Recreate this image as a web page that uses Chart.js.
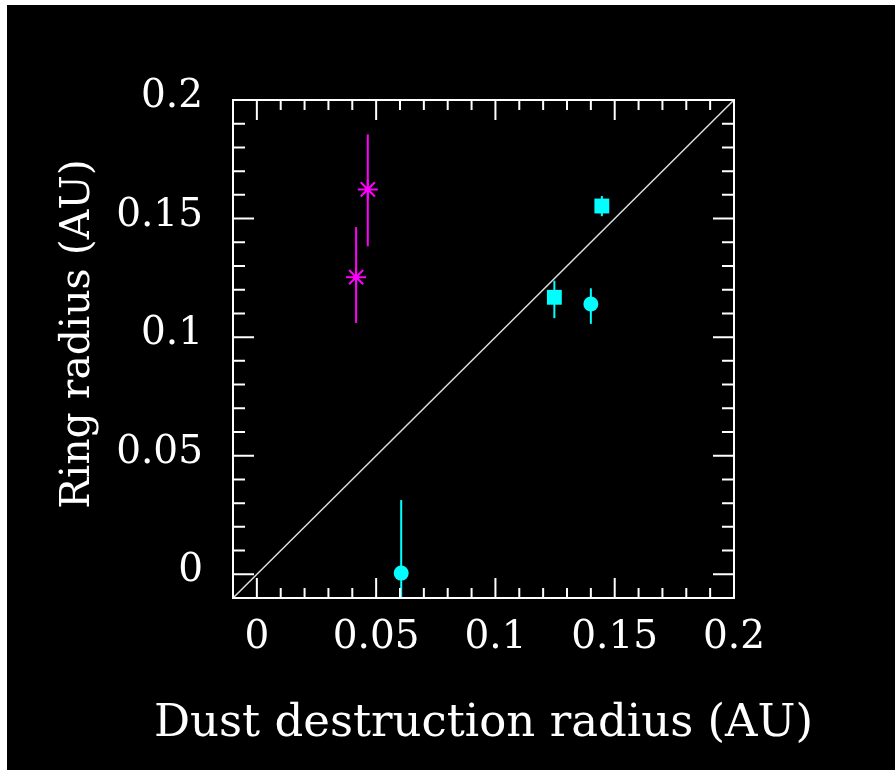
<!DOCTYPE html>
<html>
<head>
<meta charset="utf-8">
<script src="https://cdn.jsdelivr.net/npm/chart.js@4"></script>
<style>
body{margin:0;background:#fff;width:895px;height:771px;overflow:hidden;position:relative}
#myChart{position:absolute;left:7px;top:5px;background:#000}
</style>
</head>
<body>
<canvas id="myChart" width="888" height="765"></canvas>
<script>
// magenta points (asterisks) with y error bars
const magX = [0.0416, 0.0465]
const magY = [0.1253, 0.1623]
const magLo = [0.1060, 0.1383]
const magHi = [0.1464, 0.1855]

// cyan points
const cyanX = [0.0605, 0.1247, 0.1400, 0.1446]
const cyanY = [0.0005, 0.1168, 0.1140, 0.1553]
const cyanLo = [-0.031, 0.1080, 0.1056, 0.1510]
const cyanHi = [0.0313, 0.1238, 0.1206, 0.1595]

// 1:1 line ends
const diagX = [-0.01, 0.2]
const diagY = [-0.01, 0.2]

const tickVals = [0, 0.05, 0.1, 0.15, 0.2]
const tickLabels = ['0', '0.05', '0.1', '0.15', '0.2']
const xTitle = 'Dust destruction radius (AU)'
const yTitle = 'Ring radius (AU)'

Chart.defaults.font.family = 'DejaVu Serif'
Chart.defaults.color = '#fff'

const pts = (xs, ys) => xs.map((x, i) => ({x: x, y: ys[i]}))

const errPlugin = {
    id: 'errbars',
    beforeDatasetsDraw(chart) {
        const ctx = chart.ctx
        const xs = chart.scales.x, ys = chart.scales.y
        const a = chart.chartArea
        ctx.save()
        ctx.beginPath()
        ctx.rect(a.left, a.top, a.right - a.left, a.bottom - a.top)
        ctx.clip()
        ctx.lineWidth = 2
        const draw = (X, L, H, col) => {
            ctx.strokeStyle = col
            X.forEach((x, i) => {
                const px = xs.getPixelForValue(x)
                ctx.beginPath()
                ctx.moveTo(px, ys.getPixelForValue(L[i]))
                ctx.lineTo(px, ys.getPixelForValue(H[i]))
                ctx.stroke()
            })
        }
        draw(magX, magLo, magHi, '#f0f')
        draw(cyanX, cyanLo, cyanHi, '#0ff')
        ctx.restore()
    },
    afterDatasetsDraw(chart) {
        const ctx = chart.ctx
        const xs = chart.scales.x, ys = chart.scales.y
        const a = chart.chartArea
        ctx.save()
        ctx.strokeStyle = '#fff'
        ctx.lineWidth = 2
        ctx.strokeRect(a.left, a.top, a.right - a.left, a.bottom - a.top)
        ctx.beginPath()
        for (let i = 0; i <= 20; i++) {
            const v = i / 100
            const major = i % 5 == 0
            const px = xs.getPixelForValue(v)
            const lx = major ? 20 : 10
            ctx.moveTo(px, a.bottom); ctx.lineTo(px, a.bottom - lx)
            ctx.moveTo(px, a.top); ctx.lineTo(px, a.top + lx)
            const py = ys.getPixelForValue(v)
            const ly = major ? 21 : 12
            ctx.moveTo(a.left, py); ctx.lineTo(a.left + ly, py)
            ctx.moveTo(a.right, py); ctx.lineTo(a.right - ly, py)
        }
        ctx.stroke()
        // axis titles drawn here so they are not squeezed / centred by the scale
        ctx.fillStyle = '#fff'
        ctx.font = '45px "DejaVu Serif"'
        ctx.textAlign = 'center'
        ctx.textBaseline = 'alphabetic'
        ctx.fillText(xTitle, (a.left + a.right) / 2, 731)
        ctx.translate(82, 329)
        ctx.rotate(-Math.PI / 2)
        ctx.font = '41px "DejaVu Serif"'
        ctx.fillText(yTitle, 0, 0)
        ctx.restore()
    }
}

const data = {
    datasets: [{
        type: 'line',
        data: pts(diagX, diagY),
        borderColor: '#ddd',
        borderWidth: 1.5,
        pointRadius: 0,
        fill: false
    }, {
        data: pts(magX, magY),
        pointStyle: 'star',
        pointRadius: 10,
        borderColor: '#f0f',
        backgroundColor: '#f0f',
        borderWidth: 2
    }, {
        data: pts(cyanX, cyanY),
        pointStyle: ['circle', 'rect', 'circle', 'rect'],
        pointRadius: [7.5, 10.5, 7.5, 10.5],
        borderColor: '#0ff',
        backgroundColor: '#0ff',
        borderWidth: 0
    }]
}

const config = {
    type: 'scatter',
    data: data,
    options: {
        responsive: false,
        animation: false,
        layout: {padding: {left: 0, top: 95, right: 161, bottom: 0}},
        plugins: {legend: {display: false}, tooltip: {enabled: false}},
        scales: {
            x: {
                min: -0.01, max: 0.2,
                grid: {display: false, drawTicks: false},
                border: {display: false},
                afterBuildTicks: (s) => { s.ticks = tickVals.map(v => ({value: v})) },
                afterFit: (s) => { s.height = 172 },
                ticks: {
                    padding: 16,
                    font: {size: 39},
                    color: '#fff',
                    maxRotation: 0,
                    callback: (v) => tickLabels[tickVals.indexOf(v)]
                },
                title: {display: false}
            },
            y: {
                min: -0.01, max: 0.2,
                grid: {display: false, drawTicks: false},
                border: {display: false},
                afterBuildTicks: (s) => { s.ticks = tickVals.map(v => ({value: v})) },
                afterFit: (s) => { s.width = 226 },
                ticks: {
                    padding: 30,
                    labelOffset: -3,
                    font: {size: 39},
                    color: '#fff',
                    callback: (v) => tickLabels[tickVals.indexOf(v)]
                },
                title: {display: false}
            }
        }
    },
    plugins: [errPlugin]
}

const myChart = new Chart(document.getElementById('myChart'), config)
</script>
</body>
</html>
